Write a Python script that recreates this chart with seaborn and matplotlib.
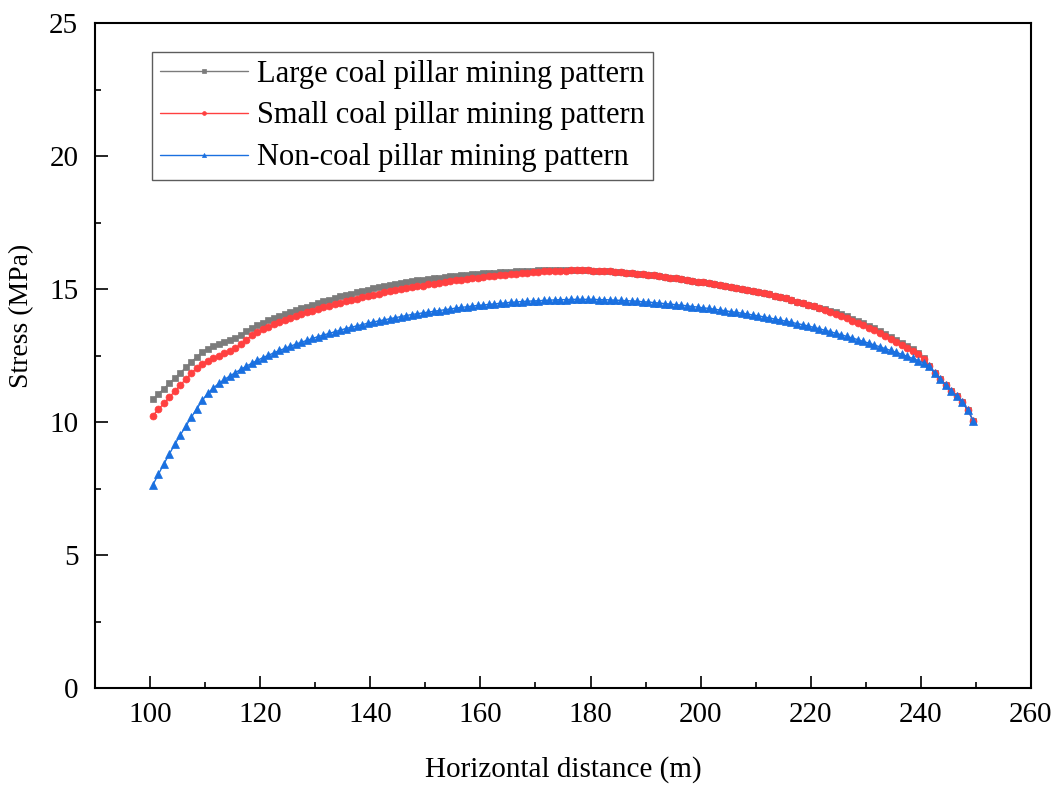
import numpy as np
import pandas as pd
import matplotlib
matplotlib.use("Agg")
import matplotlib.pyplot as plt
from matplotlib.ticker import AutoMinorLocator
import seaborn as sns

# Horizontal positions of the monitoring points (m)
x_start, x_step, n_points = 100.5, 1.0, 150
distance = x_start + x_step * np.arange(n_points)

# Vertical stress along the monitoring line (MPa)
large_pillar = [
    10.85, 11.05, 11.25, 11.45, 11.65, 11.85, 12.05, 12.25, 12.45, 12.63,
    12.76, 12.85, 12.93, 13.00, 13.07, 13.15, 13.27, 13.42, 13.55, 13.65,
    13.74, 13.82, 13.90, 13.98, 14.06, 14.13, 14.20, 14.27, 14.34, 14.41,
    14.48, 14.54, 14.60, 14.66, 14.72, 14.78, 14.83, 14.88, 14.93, 14.98,
    15.03, 15.07, 15.11, 15.15, 15.19, 15.23, 15.26, 15.29, 15.32, 15.35,
    15.38, 15.41, 15.43, 15.45, 15.47, 15.49, 15.51, 15.53, 15.55, 15.57,
    15.59, 15.60, 15.62, 15.63, 15.64, 15.65, 15.66, 15.67, 15.68, 15.69,
    15.70, 15.70, 15.70, 15.70, 15.70, 15.70, 15.70, 15.70, 15.70, 15.70,
    15.69, 15.68, 15.67, 15.66, 15.64, 15.63, 15.61, 15.59, 15.57, 15.55,
    15.53, 15.51, 15.48, 15.46, 15.43, 15.40, 15.37, 15.34, 15.31, 15.28,
    15.25, 15.22, 15.19, 15.16, 15.12, 15.09, 15.05, 15.01, 14.97, 14.93,
    14.89, 14.85, 14.80, 14.75, 14.70, 14.65, 14.59, 14.53, 14.47, 14.41,
    14.36, 14.30, 14.25, 14.19, 14.12, 14.05, 13.97, 13.89, 13.80, 13.71,
    13.62, 13.52, 13.42, 13.32, 13.21, 13.10, 12.98, 12.86, 12.74, 12.60,
    12.42, 12.12, 11.84, 11.60, 11.38, 11.17, 10.96, 10.74, 10.46, 10.05,
]
small_pillar = [
    10.24, 10.47, 10.70, 10.93, 11.16, 11.39, 11.61, 11.83, 12.04, 12.19,
    12.30, 12.40, 12.49, 12.58, 12.67, 12.78, 12.93, 13.10, 13.26, 13.39,
    13.49, 13.58, 13.67, 13.75, 13.83, 13.91, 13.98, 14.05, 14.12, 14.19,
    14.25, 14.31, 14.37, 14.43, 14.49, 14.54, 14.59, 14.64, 14.69, 14.74,
    14.79, 14.83, 14.87, 14.91, 14.95, 14.99, 15.03, 15.07, 15.10, 15.13,
    15.17, 15.20, 15.23, 15.26, 15.29, 15.32, 15.35, 15.37, 15.40, 15.42,
    15.45, 15.47, 15.50, 15.52, 15.54, 15.56, 15.58, 15.60, 15.62, 15.64,
    15.65, 15.66, 15.67, 15.68, 15.69, 15.69, 15.70, 15.70, 15.70, 15.70,
    15.69, 15.68, 15.67, 15.66, 15.64, 15.63, 15.61, 15.59, 15.57, 15.55,
    15.53, 15.51, 15.48, 15.46, 15.43, 15.40, 15.37, 15.34, 15.31, 15.28,
    15.25, 15.22, 15.19, 15.16, 15.12, 15.09, 15.05, 15.01, 14.97, 14.93,
    14.89, 14.85, 14.80, 14.75, 14.70, 14.65, 14.59, 14.53, 14.47, 14.41,
    14.35, 14.28, 14.21, 14.14, 14.06, 13.98, 13.90, 13.81, 13.72, 13.63,
    13.54, 13.44, 13.34, 13.24, 13.13, 13.02, 12.91, 12.79, 12.67, 12.54,
    12.38, 12.12, 11.84, 11.60, 11.38, 11.17, 10.96, 10.74, 10.46, 10.05,
]
no_pillar = [
    7.63, 8.03, 8.42, 8.80, 9.16, 9.51, 9.85, 10.18, 10.50, 10.82,
    11.08, 11.28, 11.45, 11.60, 11.73, 11.86, 11.98, 12.10, 12.21, 12.32,
    12.42, 12.51, 12.60, 12.69, 12.77, 12.85, 12.93, 13.00, 13.07, 13.14,
    13.21, 13.27, 13.33, 13.39, 13.45, 13.51, 13.56, 13.61, 13.66, 13.71,
    13.76, 13.80, 13.84, 13.88, 13.92, 13.96, 14.00, 14.04, 14.07, 14.10,
    14.13, 14.16, 14.19, 14.22, 14.25, 14.28, 14.31, 14.33, 14.36, 14.38,
    14.40, 14.42, 14.44, 14.46, 14.48, 14.50, 14.51, 14.53, 14.54, 14.55,
    14.56, 14.57, 14.58, 14.59, 14.60, 14.60, 14.61, 14.61, 14.61, 14.61,
    14.61, 14.60, 14.60, 14.59, 14.58, 14.57, 14.56, 14.55, 14.54, 14.52,
    14.51, 14.49, 14.47, 14.45, 14.43, 14.41, 14.39, 14.37, 14.34, 14.32,
    14.29, 14.27, 14.24, 14.21, 14.18, 14.15, 14.12, 14.09, 14.06, 14.02,
    13.99, 13.95, 13.91, 13.87, 13.83, 13.79, 13.75, 13.70, 13.66, 13.61,
    13.56, 13.51, 13.45, 13.40, 13.34, 13.28, 13.22, 13.16, 13.10, 13.03,
    12.97, 12.90, 12.83, 12.76, 12.69, 12.62, 12.55, 12.47, 12.39, 12.31,
    12.22, 12.10, 11.84, 11.60, 11.38, 11.17, 10.96, 10.74, 10.46, 10.05,
]

series_names = [
    "Large coal pillar mining pattern",
    "Small coal pillar mining pattern",
    "Non-coal pillar mining pattern",
]
series_values = [large_pillar, small_pillar, no_pillar]
series_colors = ["#7b7b7b", "#ff4040", "#1a70e0"]
series_markers = ["s", "o", "^"]
series_msize = [4.6, 5.0, 5.4]

x_ticks = [100, 120, 140, 160, 180, 200, 220, 240, 260]
y_ticks = [0, 5, 10, 15, 20, 25]

sns.set_theme(style="white")
plt.rcParams["font.family"] = ["Liberation Serif", "DejaVu Serif"]
plt.rcParams["text.color"] = "black"
plt.rcParams["axes.labelcolor"] = "black"

fig = plt.figure(figsize=(10.63, 7.87), dpi=100)
ax = fig.add_axes([95 / 1063, 1 - 688 / 787, 936 / 1063, 665 / 787])

for name, vals, col, mk, ms in zip(series_names, series_values, series_colors,
                                   series_markers, series_msize):
    df = pd.DataFrame({"x": distance, "y": vals})
    sns.lineplot(data=df, x="x", y="y", ax=ax, color=col, marker=mk,
                 markersize=ms, markeredgewidth=0.5, markeredgecolor=col,
                 linewidth=1.0, label=name, estimator=None, sort=False)

ax.set_xlim(90, 260)
ax.set_ylim(0, 25)
ax.set_xticks(x_ticks)
ax.set_yticks(y_ticks)
ax.xaxis.set_minor_locator(AutoMinorLocator(2))
ax.yaxis.set_minor_locator(AutoMinorLocator(2))

ax.tick_params(axis="both", which="both", direction="in", bottom=True,
               left=True, top=False, right=False, color="black")
ax.tick_params(axis="both", which="major", length=9, width=1.2,
               labelsize=21, labelcolor="black")
ax.tick_params(axis="both", which="minor", length=4.5, width=1.2)
ax.tick_params(axis="x", which="major", pad=10)
ax.tick_params(axis="y", which="major", pad=12)

for sp in ax.spines.values():
    sp.set_visible(True)
    sp.set_color("black")
    sp.set_linewidth(1.5)

ax.set_xlabel("Horizontal distance (m)", fontsize=21, labelpad=20,
              color="black")
ax.set_ylabel("Stress (MPa)", fontsize=20, color="black")
ax.yaxis.set_label_coords(-0.065, 0.559)

leg = ax.legend(loc="upper left", bbox_to_anchor=(57 / 936, (688 - 52) / 665),
                borderaxespad=0, fontsize=22, frameon=True, fancybox=False,
                handlelength=2.9, handletextpad=0.3, labelspacing=0.42,
                borderpad=0.25, markerscale=0.55)
leg.get_frame().set_edgecolor("#333333")
leg.get_frame().set_linewidth(1.0)
for txt in leg.get_texts():
    txt.set_color("black")

fig.savefig("out.png", dpi=100)
